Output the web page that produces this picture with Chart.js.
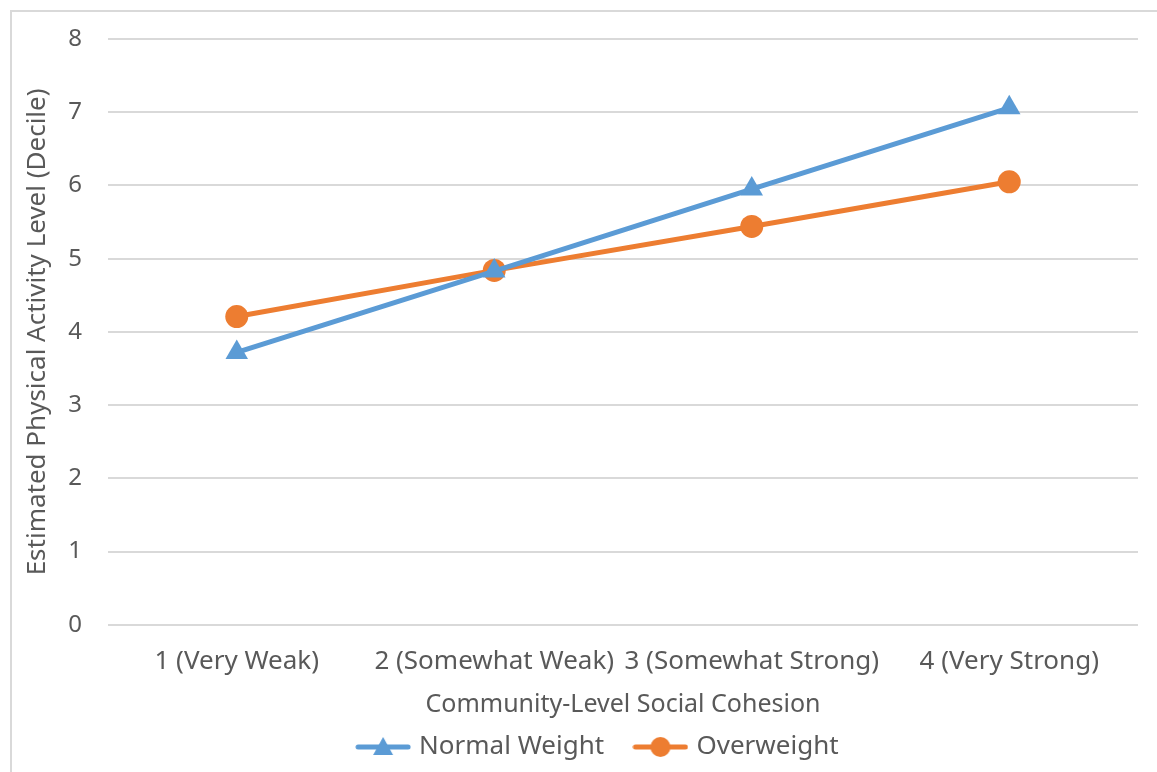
<!DOCTYPE html>
<html>
<head>
<meta charset="utf-8">
<script src="https://cdn.jsdelivr.net/npm/chart.js@4.4.1/dist/chart.umd.min.js"></script>
<style>
  html, body { margin: 0; padding: 0; background: #fff; overflow: hidden; }
  #frame { position: absolute; left: 10px; top: 10px; width: 1200px; height: 800px;
           border-top: 2px solid #d9d9d9; border-left: 2px solid #d9d9d9; }
  #myChart { position: absolute; left: 0; top: 0; }
</style>
</head>
<body>
<div id="frame"></div>
<canvas id="myChart" width="1157" height="772"></canvas>
<script>
const categories = ['1 (Very Weak)', '2 (Somewhat Weak)', '3 (Somewhat Strong)', '4 (Very Strong)'];
const normalWeight = [3.72, 4.83, 5.95, 7.06];
const overweight = [4.21, 4.84, 5.44, 6.05];
const seriesNames = ['Normal Weight', 'Overweight'];
const yTicks = [0, 1, 2, 3, 4, 5, 6, 7, 8];

const blue = '#5b9bd5';
const orange = '#ed7d31';
const textColor = '#595959';
const font = 'Noto Sans';

// small line+marker pictures for the legend
function legendIcon(color, shape){
  const c = document.createElement('canvas');
  c.width = 56; c.height = 24;
  const g = c.getContext('2d');
  g.strokeStyle = color; g.fillStyle = color;
  g.lineWidth = 5; g.lineCap = 'round';
  g.beginPath(); g.moveTo(3, 12); g.lineTo(53, 12); g.stroke();
  g.beginPath();
  if (shape === 'triangle') {
    g.moveTo(28, 2); g.lineTo(38, 20); g.lineTo(18, 20); g.closePath();
  } else {
    g.arc(28, 12, 10, 0, Math.PI * 2);
  }
  g.fill();
  return c;
}
const icons = [legendIcon(blue, 'triangle'), legendIcon(orange, 'circle')];
// trailing spaces give the gaps between legend entries
const legendSuffix = ['   ', '       '];

const ctx = document.getElementById('myChart').getContext('2d');
const myChart = new Chart(ctx, {
  type: 'line',
  data: {
    labels: categories,
    datasets: [{
      label: seriesNames[0],
      data: normalWeight,
      borderColor: blue,
      backgroundColor: blue,
      borderWidth: 5,
      pointStyle: 'triangle',
      pointRadius: 13,
      pointBorderWidth: 0,
      fill: false,
      tension: 0
    }, {
      label: seriesNames[1],
      data: overweight,
      borderColor: orange,
      backgroundColor: orange,
      borderWidth: 5,
      pointStyle: 'circle',
      pointRadius: 11.5,
      pointBorderWidth: 0,
      fill: false,
      tension: 0
    }]
  },
  options: {
    responsive: false,
    animation: false,
    devicePixelRatio: 1,
    layout: { padding: { left: 10, right: 19, top: 39, bottom: 2 } },
    plugins: {
      tooltip: { enabled: false },
      legend: {
        position: 'bottom',
        fullSize: false,
        labels: {
          color: textColor,
          font: { family: font, size: 26 },
          usePointStyle: true,
          pointStyleWidth: 46,
          padding: 13,
          generateLabels: chart => chart.data.datasets.map((ds, i) => ({
            text: ds.label + legendSuffix[i],
            pointStyle: icons[i],
            fontColor: textColor,
            datasetIndex: i,
            hidden: false,
            lineWidth: 0
          }))
        }
      }
    },
    scales: {
      x: {
        offset: true,
        afterFit: axis => { axis.paddingLeft = 0; axis.paddingRight = 0; },
        grid: { display: false },
        border: { display: false },
        ticks: { color: textColor, font: { family: font, size: 26 }, padding: 13, maxRotation: 0, autoSkip: false },
        title: { display: true, text: 'Community-Level Social Cohesion', color: textColor,
                 font: { family: font, size: 25 }, padding: { top: 0, bottom: 1 } }
      },
      y: {
        min: 0,
        max: 8,
        afterBuildTicks: axis => { axis.ticks = yTicks.map(v => ({ value: v })); },
        afterFit: axis => { axis.width = 98; axis.paddingTop = 0; axis.paddingBottom = 0; },
        grid: { color: '#d9d9d9', lineWidth: 2, drawTicks: false, tickLength: 0 },
        border: { display: false },
        ticks: { color: textColor, font: { family: font, size: 24 }, padding: 26 },
        title: { display: true, text: 'Estimated Physical Activity Level (Decile)', color: textColor,
                 font: { family: font, size: 26 }, padding: { top: 12, bottom: 0 } }
      }
    }
  }
});
</script>
</body>
</html>
